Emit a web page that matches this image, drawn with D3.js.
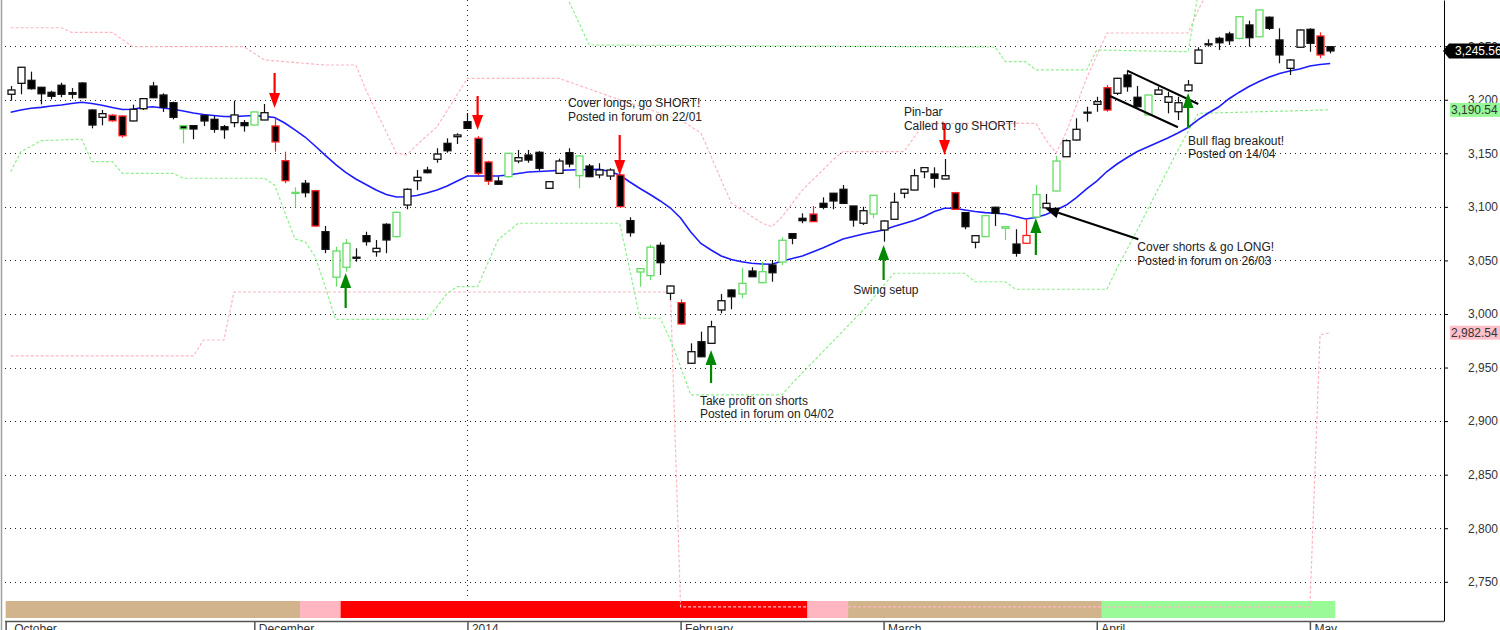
<!DOCTYPE html>
<html><head><meta charset="utf-8">
<script src="https://cdn.jsdelivr.net/npm/d3@7"></script>
<style>
body{margin:0;background:#fff;}
svg{display:block;font-family:"Liberation Sans",Arial,sans-serif;}
</style>
</head><body>
<svg id="chart" width="1500" height="630"></svg>
<script>
// ---------------- DATA ----------------
const opens = [3205.1,3215.3,3218.1,3211.6,3206.9,3213.5,3206.6,3215.6,3190.4,3183.6,
3185.5,3184.8,3180.2,3191.6,3212.8,3204.4,3197.2,3175.8,3175.8,3185.1,
3181.7,3174.8,3178.6,3178.6,3176.4,3181.1,3175.5,3143.1,3113.0,3122.0,
3115.1,3076.8,3034.3,3043.6,3053.0,3073.1,3058.1,3083.7,3072.2,3101.7,
3124.4,3134.4,3144.4,3159.3,3165.5,3179.5,3164.0,3141.9,3124.1,3128.2,
3142.8,3148.4,3150.9,3117.3,3131.3,3150.6,3129.1,3138.1,3129.8,3128.8,
3129.8,3087.1,3039.2,3035.8,3064.1,3019.3,3010.5,2954.0,2974.1,2972.6,
3003.7,3022.4,3018.7,3040.1,3029.2,3045.7,3048.5,3075.0,3089.3,3093.3,
3103.3,3112.7,3116.4,3100.8,3084.7,3093.3,3078.4,3088.4,3112.7,3115.7,
3132.8,3130.7,3126.0,3113.2,3094.6,3066.9,3072.2,3099.6,3080.0,3065.3,
3066.0,3090.5,3099.1,3114.8,3146.8,3162.4,3188.0,3195.7,3211.2,3206.0,
3223.1,3202.3,3185.8,3205.1,3197.6,3188.8,3208.4,3234.0,3251.9,3257.3,
3261.4,3257.3,3269.8,3258.8,3277.0,3255.8,3229.3,3249.0,3265.7,3259.5,
3249.5];
const highs = [3212.8,3230.5,3226.2,3212.0,3208.4,3215.9,3210.9,3216.3,3191.1,3190.4,
3186.5,3185.5,3195.4,3201.5,3216.6,3206.0,3198.2,3176.2,3176.4,3186.4,
3184.8,3176.4,3199.1,3181.1,3189.0,3196.0,3183.0,3151.5,3118.3,3125.1,
3116.0,3082.1,3062.8,3070.0,3061.3,3076.8,3069.1,3084.7,3095.5,3117.3,
3134.4,3137.5,3154.7,3164.0,3168.7,3187.6,3166.0,3143.0,3128.2,3150.5,
3153.1,3153.1,3152.0,3124.0,3145.0,3154.7,3148.0,3140.0,3140.7,3136.0,
3131.0,3090.3,3042.7,3064.4,3066.9,3026.5,3013.7,2972.6,2983.5,2993.7,
3018.7,3023.0,3042.7,3043.6,3048.8,3050.4,3071.6,3075.3,3094.0,3100.8,
3108.9,3113.0,3120.4,3101.0,3100.2,3111.0,3087.5,3113.2,3117.0,3135.3,
3137.0,3136.9,3144.7,3114.0,3095.0,3073.5,3092.2,3100.2,3081.8,3079.1,
3088.4,3120.4,3112.0,3147.5,3163.0,3182.7,3193.5,3202.8,3213.8,3220.5,
3227.1,3212.8,3205.0,3212.2,3207.5,3202.8,3218.4,3249.0,3256.4,3258.8,
3263.5,3278.0,3273.8,3284.3,3277.7,3266.7,3238.0,3265.5,3266.7,3262.9,
3250.0];
const lows = [3199.1,3205.1,3209.5,3195.7,3200.4,3202.3,3201.0,3201.5,3173.3,3176.1,
3179.5,3164.6,3179.8,3190.4,3201.5,3188.6,3181.7,3159.3,3163.1,3175.5,
3169.2,3163.6,3174.3,3170.2,3176.0,3181.0,3151.5,3122.0,3099.6,3108.9,
3081.5,3056.7,3025.5,3039.5,3048.8,3063.8,3053.5,3056.7,3071.5,3097.7,
3115.7,3131.3,3141.2,3150.6,3158.7,3173.0,3129.5,3120.4,3120.8,3127.0,
3140.7,3141.2,3133.8,3117.0,3131.0,3136.9,3117.3,3127.8,3126.7,3125.1,
3099.5,3072.2,3025.5,3031.7,3036.4,3013.1,2990.0,2953.5,2959.8,2972.0,
3000.6,3004.4,3014.6,3034.5,3028.6,3030.1,3045.7,3065.1,3084.7,3085.8,
3097.7,3097.7,3103.0,3081.5,3083.1,3089.3,3067.5,3088.0,3108.0,3115.3,
3126.7,3117.9,3125.8,3097.0,3079.1,3061.3,3071.8,3082.1,3069.1,3053.5,
3065.5,3090.0,3098.7,3114.5,3146.5,3162.0,3179.5,3188.8,3188.8,3204.4,
3207.5,3193.0,3185.5,3204.8,3187.3,3181.1,3207.5,3233.7,3249.5,3246.4,
3251.1,3256.2,3249.5,3258.5,3265.1,3234.0,3223.1,3248.7,3244.8,3238.7,
3243.3];
const closes = [3209.1,3230.3,3210.3,3205.6,3203.2,3205.1,3205.1,3201.9,3176.4,3187.0,
3180.4,3166.4,3191.1,3201.0,3201.9,3193.0,3183.6,3172.7,3172.7,3180.2,
3172.4,3172.0,3185.8,3175.8,3188.6,3187.9,3160.6,3124.4,3113.5,3113.2,
3082.1,3060.4,3058.8,3066.0,3052.6,3067.5,3061.3,3069.1,3094.9,3116.4,
3127.6,3131.9,3149.3,3152.4,3167.1,3173.3,3131.3,3124.0,3121.1,3150.0,
3145.9,3143.7,3136.0,3123.5,3142.8,3140.0,3147.5,3128.2,3134.4,3134.4,
3100.2,3075.9,3042.3,3062.3,3047.9,3026.1,2990.7,2964.8,2960.1,2988.1,
3012.4,3016.1,3028.6,3034.8,3039.5,3038.5,3068.8,3070.7,3087.1,3086.2,
3099.6,3105.5,3103.3,3087.7,3096.4,3110.8,3086.8,3104.3,3116.4,3129.1,
3136.6,3126.7,3129.1,3097.7,3081.5,3073.1,3091.8,3094.0,3081.5,3056.7,
3073.3,3111.5,3103.3,3142.8,3161.8,3172.4,3188.4,3198.2,3190.4,3220.0,
3212.2,3193.5,3204.4,3209.1,3202.8,3197.2,3213.8,3246.4,3252.2,3253.2,
3255.1,3277.5,3257.9,3283.8,3266.7,3241.8,3237.1,3265.1,3252.7,3241.8,
3245.56];
// bar outline signal: k = normal, g = green signal bar, r = red signal bar
const barSignal = ("kkkkkkkkkk"+"rrkkkkkgkk"+"kkkkgkrrgk"+"rkggkkkkgk"+"kkkkkkrrkg"+
  "kkkkkkgkkk"+"rkggkkrkkk"+"kkgkgkgkkr"+"kkkkkgkkkk"+"kkkrkkgkgk"+
  "rgkgkkkkrk"+"kkgkkkkkkk"+"kgkgkkkkkr"+"k").split("");
// moving average
const maValues = [3188.3,3190.4,3192.0,3192.9,3194.2,3195.1,3196.5,3197.6,3196.5,3194.8,
3192.8,3190.9,3191.1,3192.8,3193.5,3192.3,3191.1,3189.5,3187.6,3186.2,
3185.3,3184.4,3184.2,3184.8,3185.3,3184.5,3183.4,3178.3,3171.8,3165.2,
3156.8,3148.0,3139.6,3132.1,3126.0,3120.9,3115.7,3111.5,3109.2,3109.5,
3110.6,3112.9,3115.7,3119.5,3124.1,3128.8,3128.8,3128.8,3128.8,3129.7,
3131.1,3132.5,3133.0,3133.5,3134.1,3134.4,3134.7,3134.9,3135.1,3133.0,
3129.7,3123.2,3117.1,3111.5,3105.5,3098.9,3089.6,3076.5,3065.8,3059.7,
3054.1,3050.9,3048.8,3047.3,3046.7,3046.4,3049.5,3051.8,3054.1,3057.9,
3061.6,3065.8,3070.0,3072.3,3074.7,3076.5,3078.4,3081.7,3084.5,3087.3,
3091.0,3095.7,3098.7,3098.7,3097.1,3095.7,3094.6,3094.0,3093.3,3091.0,
3088.7,3090.1,3092.9,3097.1,3101.7,3108.7,3116.7,3124.1,3133.0,3140.0,
3146.1,3151.7,3155.9,3160.1,3164.3,3169.0,3174.1,3181.5,3187.6,3193.2,
3200.7,3206.8,3212.4,3217.0,3221.2,3224.5,3226.8,3228.7,3231.5,3232.9,
3233.8];
// channel lines as [bar index, price]
const greenLower = [[0,3132.8],[1,3151.5],[3,3161.8],[7,3163.1],[8,3142.2],[10,3142.2],[11,3131.3],[16,3131.3],
 [17,3126.7],[25,3126.7],[26,3120.4],[27,3095.2],[28,3070.0],[29,3067.5],[30,3053.5],[31,3025.2],[32,2995.0],
 [41,2995.0],[42,3006.8],[43,3019.3],[44,3025.5],[46,3025.5],[48,3069.1],[50,3084.7],[60,3084.7],[61,3041.1],
 [62,2996.0],[64,2996.0],[65,2975.7],[66,2950.8],[67,2924.4],[76,2924.4],[77,2935.3],[84,3003.7],[87,3038.0],
 [94,3038.0],[95,3030.1],[98,3030.1],[99,3023.1],[108,3023.1],[109,3042.7],[111,3078.4],[115,3153.1],[117,3187.3],
 [130,3190.54]];
const greenUpper = [[54.6,3300],[57,3251.1],[97,3249.2],[98,3235.5],[100,3235.5],[101,3227.8],[106,3227.8],
 [107,3246.4],[116,3244.8],[117,3300]];
const pinkUpper = [[0,3267.2],[5,3267.2],[6,3262.9],[10,3262.9],[12,3249.5],[23,3249.5],[25,3237.1],[31,3232.4],
 [34,3232.4],[35,3209.1],[38,3150.3],[39,3148.4],[40,3157.8],[42,3174.8],[45,3220.0],[54,3220.0],[60,3200.0],
 [66,3181.1],[68,3169.0],[70,3125.1],[71,3103.6],[74,3084.9],[75,3081.5],[76,3090.8],[78,3115.7],[81,3143.7],
 [82,3151.5],[88,3151.5],[90,3178.0],[101,3178.0],[102,3162.4],[103,3150.3],[104,3170.0],[106,3220.0],
 [108,3262.3],[116,3262.3],[117,3283.8],[118,3302.0]];
const pinkLower = [[0,2960.8],[18,2960.8],[19,2975.7],[21,2975.7],[22,3020.5],[65,3020.5],[66,2726.5],
 [128,2726.5],[129,2980.4],[130,2982.54]];
// regime strip
const regimeStart = [0,29,33,79,83,108];
const regimeEnd   = [28,32,78,82,107,130];
const regimeKind  = ["neutral","caution","bear","caution","neutral","bull"];
// axis ticks
const priceTicks = [2750,2800,2850,2900,2950,3000,3050,3100,3150,3200,3250];
const monthTickIdx = [-0.5,24,45,66,86,107,128];
const monthLabels = ["October","December","2014","February","March","April","May"];
const yearBoundaryIdx = 45;
// signals
const sellArrowIdx = [26,46,60,92];
const sellArrowTip = [3192.3,3171.7,3129.8,3148.4];
const sellArrowTail = [3225.0,3203.5,3167.1,3178.3];
const buyArrowIdx = [33,69,86,101,116];
const buyArrowTip = [3038.3,2966.4,3064.4,3089.6,3206.3];
const buyArrowTail = [3005.6,2935.6,3031.7,3055.1,3173.6];
const flagLines = [[[110,3227.1],[117,3196.0]],[[108.3,3203.5],[115,3174.3]]];
const pointerArrow = [[111.1,3069.7],[101.9,3098.6]];
const notes = [
  {idx:54.9, price:3197.0, lines:["Cover longs, go SHORT!","Posted in forum on 22/01"]},
  {idx:67.9, price:2919.7, lines:["Take profit on shorts","Posted in forum on 04/02"]},
  {idx:83.0, price:3022.4, lines:["Swing setup"]},
  {idx:88.0, price:3188.8, lines:["Pin-bar","Called to go SHORT!"]},
  {idx:116.0, price:3162.4, lines:["Bull flag breakout!","Posted on 14/04"]},
  {idx:111.0, price:3062.8, lines:["Cover shorts & go LONG!","Posted in forum on 26/03"]}
];

// ---------------- DRAW ----------------
const svg = d3.select("#chart");
const W = 1500, H = 630, plotL = 2, plotR = 1444, plotB = 621;
const n = closes.length;
const x = d3.scaleLinear().domain([0, n-1]).range([10.7, 1330.2]);
const step = x(1) - x(0);
const y = d3.scaleLinear().domain([2713.4, 3293.1]).range([plotB, 0]);

svg.append("rect").attr("width",W).attr("height",H).attr("fill","#fff");
svg.append("defs").append("clipPath").attr("id","plotclip")
  .append("rect").attr("x",plotL).attr("y",0).attr("width",plotR-plotL).attr("height",plotB);

// left border
svg.append("line").attr("x1",1.5).attr("x2",1.5).attr("y1",0).attr("y2",H)
  .attr("stroke","#a0a0a0").attr("stroke-width",1.5);

// regime strip
const regimeColor = {neutral:"#d2b48c", caution:"#ffb6c1", bear:"#ff0000", bull:"#98fb98"};
svg.append("g").selectAll("rect").data(regimeKind).join("rect")
  .attr("x",(d,i)=>x(regimeStart[i]) - step/2)
  .attr("width",(d,i)=>x(regimeEnd[i]) - x(regimeStart[i]) + step)
  .attr("y",601).attr("height",17)
  .attr("fill",d=>regimeColor[d]);

// gridlines
const grid = svg.append("g");
grid.selectAll("line.h").data(priceTicks).join("line").attr("class","h")
  .attr("x1",5).attr("x2",plotR).attr("y1",d=>Math.round(y(d))+0.5).attr("y2",d=>Math.round(y(d))+0.5)
  .attr("stroke","#222").attr("stroke-dasharray","1,4");
grid.append("line").attr("x1",Math.round(x(yearBoundaryIdx))+0.5).attr("x2",Math.round(x(yearBoundaryIdx))+0.5)
  .attr("y1",0).attr("y2",598).attr("stroke","#222").attr("stroke-dasharray","1,4");

// channel lines
const plot = svg.append("g").attr("clip-path","url(#plotclip)");
const lineGen = d3.line().x(d=>x(d[0])).y(d=>y(d[1]));
[[pinkUpper,"#ffb6c1"],[pinkLower,"#ffb6c1"],[greenUpper,"#90ee90"],[greenLower,"#90ee90"]].forEach(([d,c])=>{
  plot.append("path").attr("d",lineGen(d)).attr("fill","none").attr("stroke",c)
    .attr("stroke-width",1.2).attr("stroke-dasharray","3,2");
});

// moving average
plot.append("path").attr("d",d3.line().x((d,i)=>x(i)).y(d=>y(d))(maValues))
  .attr("fill","none").attr("stroke","#1c1cff").attr("stroke-width",1.6);

// candles
const outlineColor = {k:"#111", g:"#66dd66", r:"#ff2020"};
const idx = d3.range(n);
const cg = plot.append("g");
cg.selectAll("line").data(idx).join("line")
  .attr("x1",i=>Math.round(x(i))+0.5).attr("x2",i=>Math.round(x(i))+0.5)
  .attr("y1",i=>y(highs[i])).attr("y2",i=>y(lows[i]))
  .attr("stroke",i=>outlineColor[barSignal[i]]).attr("stroke-width",1.2);
cg.selectAll("rect").data(idx).join("rect")
  .attr("x",i=>Math.round(x(i))-3)
  .attr("width",7)
  .attr("y",i=>y(Math.max(opens[i],closes[i])))
  .attr("height",i=>Math.max(1,Math.abs(y(opens[i])-y(closes[i]))))
  .attr("fill",i=>closes[i]>=opens[i]?"#fff":"#000")
  .attr("stroke",i=>outlineColor[barSignal[i]]).attr("stroke-width",1.3);

// flag lines
flagLines.forEach(l=>{
  plot.append("path").attr("d",lineGen(l)).attr("stroke","#000").attr("stroke-width",2).attr("fill","none");
});

// arrows
function arrow(x1,y1,x2,y2,color,len,wid){
  const ang = Math.atan2(y2-y1,x2-x1);
  const bx = x2 - len*Math.cos(ang), by = y2 - len*Math.sin(ang);
  plot.append("line").attr("x1",x1).attr("y1",y1).attr("x2",bx).attr("y2",by)
    .attr("stroke",color).attr("stroke-width",2.2);
  const px = -Math.sin(ang)*wid/2, py = Math.cos(ang)*wid/2;
  plot.append("path").attr("d",`M${x2},${y2}L${bx+px},${by+py}L${bx-px},${by-py}Z`).attr("fill",color);
}
sellArrowIdx.forEach((d,i)=>arrow(x(d),y(sellArrowTail[i]),x(d),y(sellArrowTip[i]),"#ff0000",15,11));
buyArrowIdx.forEach((d,i)=>arrow(x(d),y(buyArrowTail[i]),x(d),y(buyArrowTip[i]),"#008800",15,11));
arrow(x(pointerArrow[0][0]),y(pointerArrow[0][1]),x(pointerArrow[1][0]),y(pointerArrow[1][1]),"#000",14,11);

// notes
const ng = svg.append("g").attr("font-size",12).attr("fill","#222");
notes.forEach(nt=>{
  nt.lines.forEach((t,k)=>{
    ng.append("text").attr("x",x(nt.idx)).attr("y",y(nt.price)+4.5+k*13.5).text(t);
  });
});

// right axis
const ax = svg.append("g").attr("transform",`translate(${plotR},0)`)
  .call(d3.axisRight(y).tickValues(priceTicks).tickFormat(d3.format(",")).tickSize(4).tickSizeOuter(0).tickPadding(20));
ax.select(".domain").attr("stroke","#000");
ax.selectAll(".tick line").attr("stroke","#000");
ax.selectAll("text").attr("font-size",12).attr("fill","#333").attr("font-family","Liberation Sans, Arial, sans-serif");

// bottom axis
svg.append("line").attr("x1",5).attr("x2",plotR).attr("y1",plotB+0.5).attr("y2",plotB+0.5)
  .attr("stroke","#555").attr("stroke-width",1.6);
const bx = svg.append("g").attr("transform",`translate(0,${plotB})`)
  .call(d3.axisBottom(x).tickValues(monthTickIdx).tickFormat((d,i)=>monthLabels[i]).tickSize(10).tickSizeOuter(0));
bx.select(".domain").remove();
bx.selectAll(".tick line").attr("stroke","#555").attr("stroke-width",1.5);
bx.selectAll("text").attr("text-anchor","start").attr("dx",(d,i)=>i===0?8:4).attr("y",3).attr("dy","0.71em")
  .attr("font-size",12).attr("fill","#333").attr("font-family","Liberation Sans, Arial, sans-serif");

// value boxes
const fmt = d3.format(",.2f");
const lastClose = closes[n-1], lastGreen = greenLower[greenLower.length-1][1], lastPink = pinkLower[pinkLower.length-1][1];
const yc = y(lastClose);
svg.append("path").attr("d",`M${plotR-1},${yc}L${plotR+5},${yc-7.5}L${W},${yc-7.5}L${W},${yc+7.5}L${plotR+5},${yc+7.5}Z`).attr("fill","#000");
svg.append("text").attr("x",1455).attr("y",yc+4.5).attr("font-size",12).attr("fill","#fff").text(fmt(lastClose));
[[lastGreen,"#98f898"],[lastPink,"#ffc0cb"]].forEach(([v,c])=>{
  const yy = y(v);
  svg.append("rect").attr("x",1450).attr("y",yy-7).attr("width",50).attr("height",14).attr("fill",c);
  svg.append("text").attr("x",1451).attr("y",yy+4.5).attr("font-size",12).attr("fill","#333").text(fmt(v));
});
</script>
</body></html>
